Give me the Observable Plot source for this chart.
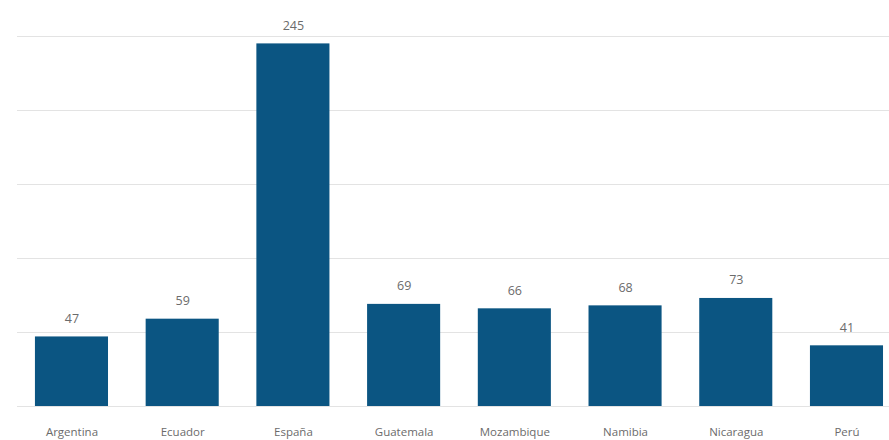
<!DOCTYPE html>
<html><head><meta charset="utf-8">
<script src="https://cdn.jsdelivr.net/npm/d3@7"></script>
<script src="https://cdn.jsdelivr.net/npm/@observablehq/plot@0.6"></script>
<style>
body{margin:0;background:#fff;}
#chart svg{font-family:"Open Sans",sans-serif;}
</style>
</head><body><div id="chart"></div>
<script>
const countries = ["Argentina","Ecuador","España","Guatemala","Mozambique","Namibia","Nicaragua","Perú"];
const values = [47,59,245,69,66,68,73,41];
const gridTicks = [0,50,100,150,200,250];
const data = countries.map((c,i)=>({country:c, value:values[i]}));

const chart = Plot.plot({
  width: 889,
  height: 440,
  marginLeft: 17,
  marginRight: 0,
  marginTop: 36,
  marginBottom: 34,
  style: {fontFamily: "'Open Sans', sans-serif", background: "#fff"},
  x: {domain: countries, paddingInner: 0.34, paddingOuter: 0.108, align: 0.75, round: false, label: null},
  y: {domain: [0,250], axis: null},
  marks: [
    Plot.ruleY(gridTicks, {stroke: "#e3e3e3", strokeWidth: 1.2}),
    Plot.barY(data, {x: "country", y: "value", fill: "#0b5582"}),
    Plot.text(data, {x: "country", y: "value", text: d => String(d.value), lineAnchor: "bottom", dy: -14, fill: "#6b6b6b", fontSize: 12.5}),
    Plot.axisX({tickSize: 0, tickPadding: 21, fontSize: 11.5, color: "#6b6b6b", label: null})
  ]
});
document.getElementById("chart").appendChild(chart);
</script>
</body></html>
